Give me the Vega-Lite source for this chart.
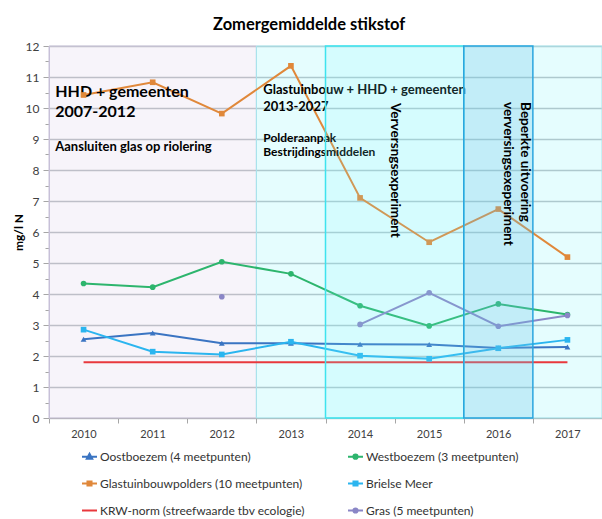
{
  "$schema": "https://vega.github.io/schema/vega-lite/v6.json",
  "width": 553,
  "height": 372,
  "autosize": {"type": "none"},
  "padding": {"left": 49, "top": 46, "right": 0, "bottom": 101},
  "background": "white",
  "title": {
    "text": "Zomergemiddelde stikstof",
    "anchor": "start",
    "frame": "group",
    "dx": 164,
    "offset": 7,
    "fontSize": 16.5,
    "font": "Lato",
    "fontWeight": "bold",
    "color": "#000000"
  },
  "config": {
    "view": {"stroke": null},
    "font": "Lato",
    "axis": {"labelFont": "Lato", "titleFont": "Lato", "labelColor": "#404040"},
    "axisY": {
      "labelOverlap": false,
      "labelFontSize": 12,
      "labelPadding": 4,
      "gridColor": "#c2c6ca",
      "gridWidth": 1.5,
      "tickColor": "#a6a6a6",
      "domainColor": "#C9C3D9",
      "titleFontSize": 12,
      "titleFontWeight": "bold",
      "titleColor": "#000000",
      "titlePadding": 0
    }
  },
  "datasets": {
    "meas": [
      {"year": 2010, "series": "Oostboezem (4 meetpunten)", "value": 2.54},
      {"year": 2011, "series": "Oostboezem (4 meetpunten)", "value": 2.74},
      {"year": 2012, "series": "Oostboezem (4 meetpunten)", "value": 2.41},
      {"year": 2013, "series": "Oostboezem (4 meetpunten)", "value": 2.41},
      {"year": 2014, "series": "Oostboezem (4 meetpunten)", "value": 2.38},
      {"year": 2015, "series": "Oostboezem (4 meetpunten)", "value": 2.37},
      {"year": 2016, "series": "Oostboezem (4 meetpunten)", "value": 2.26},
      {"year": 2017, "series": "Oostboezem (4 meetpunten)", "value": 2.29},
      {"year": 2010, "series": "Westboezem (3 meetpunten)", "value": 4.34},
      {"year": 2011, "series": "Westboezem (3 meetpunten)", "value": 4.22},
      {"year": 2012, "series": "Westboezem (3 meetpunten)", "value": 5.04},
      {"year": 2013, "series": "Westboezem (3 meetpunten)", "value": 4.65},
      {"year": 2014, "series": "Westboezem (3 meetpunten)", "value": 3.62},
      {"year": 2015, "series": "Westboezem (3 meetpunten)", "value": 2.97},
      {"year": 2016, "series": "Westboezem (3 meetpunten)", "value": 3.68},
      {"year": 2017, "series": "Westboezem (3 meetpunten)", "value": 3.34},
      {"year": 2010, "series": "Glastuinbouwpolders (10 meetpunten)", "value": 10.42},
      {"year": 2011, "series": "Glastuinbouwpolders (10 meetpunten)", "value": 10.83},
      {"year": 2012, "series": "Glastuinbouwpolders (10 meetpunten)", "value": 9.82},
      {"year": 2013, "series": "Glastuinbouwpolders (10 meetpunten)", "value": 11.36},
      {"year": 2014, "series": "Glastuinbouwpolders (10 meetpunten)", "value": 7.1},
      {"year": 2015, "series": "Glastuinbouwpolders (10 meetpunten)", "value": 5.67},
      {"year": 2016, "series": "Glastuinbouwpolders (10 meetpunten)", "value": 6.74},
      {"year": 2017, "series": "Glastuinbouwpolders (10 meetpunten)", "value": 5.19},
      {"year": 2010, "series": "Brielse Meer", "value": 2.85},
      {"year": 2011, "series": "Brielse Meer", "value": 2.14},
      {"year": 2012, "series": "Brielse Meer", "value": 2.05},
      {"year": 2013, "series": "Brielse Meer", "value": 2.46},
      {"year": 2014, "series": "Brielse Meer", "value": 2.01},
      {"year": 2015, "series": "Brielse Meer", "value": 1.91},
      {"year": 2016, "series": "Brielse Meer", "value": 2.25},
      {"year": 2017, "series": "Brielse Meer", "value": 2.52},
      {"year": 2010, "series": "KRW-norm (streefwaarde tbv ecologie)", "value": 1.8},
      {"year": 2011, "series": "KRW-norm (streefwaarde tbv ecologie)", "value": 1.8},
      {"year": 2012, "series": "KRW-norm (streefwaarde tbv ecologie)", "value": 1.8},
      {"year": 2013, "series": "KRW-norm (streefwaarde tbv ecologie)", "value": 1.8},
      {"year": 2014, "series": "KRW-norm (streefwaarde tbv ecologie)", "value": 1.8},
      {"year": 2015, "series": "KRW-norm (streefwaarde tbv ecologie)", "value": 1.8},
      {"year": 2016, "series": "KRW-norm (streefwaarde tbv ecologie)", "value": 1.8},
      {"year": 2017, "series": "KRW-norm (streefwaarde tbv ecologie)", "value": 1.8},
      {"year": 2012, "series": "Gras (5 meetpunten)", "value": 3.91},
      {"year": 2013, "series": "Gras (5 meetpunten)", "value": null},
      {"year": 2014, "series": "Gras (5 meetpunten)", "value": 3.02},
      {"year": 2015, "series": "Gras (5 meetpunten)", "value": 4.04},
      {"year": 2016, "series": "Gras (5 meetpunten)", "value": 2.96},
      {"year": 2017, "series": "Gras (5 meetpunten)", "value": 3.31}
    ],
    "regions": [
      {"period": "2010-2012", "start": 2009.5, "end": 2012.5},
      {"period": "2013-2017", "start": 2012.5, "end": 2017.5},
      {"period": "verversing", "start": 2013.5, "end": 2015.5},
      {"period": "beperkt", "start": 2015.5, "end": 2016.5}
    ],
    "notes": [
      {"group": "kop", "year": 2009.59, "value": 10.365, "label": "HHD + gemeenten\n2007-2012"},
      {"group": "sub1", "year": 2009.59, "value": 8.62, "label": "Aansluiten glas op riolering"},
      {"group": "kop2", "year": 2012.6, "value": 10.44, "label": "Glastuinbouw + HHD + gemeenten\n2013-2027"},
      {"group": "sub2", "year": 2012.6, "value": 8.91, "label": "Polderaanpak\nBestrijdingsmiddelen"},
      {"group": "rot", "year": 2014.5, "value": 10.16, "label": "Verversngsexperiment"},
      {"group": "rot", "year": 2016.386, "value": 10.19, "label": "Beperkte uitvoering"},
      {"group": "rot", "year": 2016.14, "value": 10.19, "label": "verversingsexeperiment"}
    ]
  },
  "layer": [
    {
      "data": {"name": "regions"},
      "transform": [{"filter": "datum.period === '2010-2012'"}],
      "mark": {"type": "rect", "fill": "#8E6AB8", "fillOpacity": 0.07, "stroke": "#C9C3D9", "strokeWidth": 1},
      "encoding": {
        "x": {
          "field": "start", "type": "quantitative", "title": null,
          "scale": {"domain": [2009.5, 2017.5], "nice": false, "zero": false},
          "axis": {
            "values": [2009.5, 2010.5, 2011.5, 2012.5, 2013.5, 2014.5, 2015.5, 2016.5, 2017.5],
            "labelExpr": "datum.value < 2017 ? '' + (datum.value + 0.5) : ''",
            "labelOffset": 34.5,
            "labelFlush": false,
            "labelOverlap": false,
            "labelBound": false,
            "grid": false,
            "tickSize": 5,
            "tickColor": "#a6a6a6",
            "domainColor": "#a6a6a6",
            "labelFontSize": 11,
            "labelPadding": 5,
            "title": null
          }
        },
        "x2": {"field": "end"}
      }
    },
    {
      "data": {"name": "regions"},
      "transform": [{"filter": "datum.period === '2013-2017'"}],
      "mark": {"type": "rect", "fill": "#00F0F8", "fillOpacity": 0.1, "stroke": "#A6E6EE", "strokeWidth": 1},
      "encoding": {
        "x": {"field": "start", "type": "quantitative", "title": null},
        "x2": {"field": "end"}
      }
    },
    {
      "data": {"name": "meas"},
      "mark": {"type": "line", "strokeWidth": 2, "invalid": "break-paths-filter-domains"},
      "encoding": {
        "x": {"field": "year", "type": "quantitative", "title": null},
        "y": {
          "field": "value", "type": "quantitative", "title": "mg/l N",
          "scale": {"domain": [0, 12], "nice": false},
          "axis": {
            "values": [0, 0.5, 1, 1.5, 2, 2.5, 3, 3.5, 4, 4.5, 5, 5.5, 6, 6.5, 7, 7.5, 8, 8.5, 9, 9.5, 10, 10.5, 11, 11.5, 12],
            "labelExpr": "datum.value % 1 === 0 ? format(datum.value, 'd') : ''",
            "gridOpacity": {"condition": {"test": "datum.value % 1 === 0", "value": 1}, "value": 0},
            "tickSize": {"condition": {"test": "datum.value % 1 === 0", "value": 6}, "value": 4}
          }
        },
        "color": {
          "field": "series", "type": "nominal",
          "scale": {
            "domain": ["Oostboezem (4 meetpunten)", "Westboezem (3 meetpunten)", "Glastuinbouwpolders (10 meetpunten)", "Brielse Meer", "KRW-norm (streefwaarde tbv ecologie)", "Gras (5 meetpunten)"],
            "range": ["#3A74C2", "#2DB56D", "#E0883A", "#2BB5EF", "#E8383D", "#8A86C6"]
          },
          "legend": {
            "orient": "none", "legendX": 32, "legendY": 402, "direction": "horizontal", "columns": 2, "title": null,
            "symbolSize": 225, "symbolStrokeWidth": 2, "symbolOpacity": 1,
            "labelFontSize": 12, "labelFont": "Lato", "labelColor": "#333333", "labelOffset": 2,
            "rowPadding": 12, "columnPadding": 39, "padding": 0, "labelLimit": 300
          }
        }
      }
    },
    {
      "data": {"name": "notes"},
      "transform": [{"filter": "datum.group === 'kop'"}],
      "mark": {"type": "text", "align": "left", "baseline": "alphabetic", "fontSize": 16, "fontWeight": "bold", "font": "Lato", "color": "#000000", "lineBreak": "\n", "lineHeight": 20},
      "encoding": {
        "x": {"field": "year", "type": "quantitative", "title": null},
        "y": {"field": "value", "type": "quantitative", "title": "mg/l N",
          "axis": {
            "values": [0, 0.5, 1, 1.5, 2, 2.5, 3, 3.5, 4, 4.5, 5, 5.5, 6, 6.5, 7, 7.5, 8, 8.5, 9, 9.5, 10, 10.5, 11, 11.5, 12],
            "labelExpr": "datum.value % 1 === 0 ? format(datum.value, 'd') : ''",
            "gridOpacity": {"condition": {"test": "datum.value % 1 === 0", "value": 1}, "value": 0},
            "tickSize": {"condition": {"test": "datum.value % 1 === 0", "value": 6}, "value": 4}
          }},
        "text": {"field": "label"}
      }
    },
    {
      "data": {"name": "notes"},
      "transform": [{"filter": "datum.group === 'sub1'"}],
      "mark": {"type": "text", "align": "left", "baseline": "alphabetic", "fontSize": 13, "fontWeight": "bold", "font": "Lato", "color": "#000000"},
      "encoding": {
        "x": {"field": "year", "type": "quantitative", "title": null},
        "y": {"field": "value", "type": "quantitative", "title": "mg/l N",
          "axis": {
            "values": [0, 0.5, 1, 1.5, 2, 2.5, 3, 3.5, 4, 4.5, 5, 5.5, 6, 6.5, 7, 7.5, 8, 8.5, 9, 9.5, 10, 10.5, 11, 11.5, 12],
            "labelExpr": "datum.value % 1 === 0 ? format(datum.value, 'd') : ''",
            "gridOpacity": {"condition": {"test": "datum.value % 1 === 0", "value": 1}, "value": 0},
            "tickSize": {"condition": {"test": "datum.value % 1 === 0", "value": 6}, "value": 4}
          }},
        "text": {"field": "label"}
      }
    },
    {
      "data": {"name": "notes"},
      "transform": [{"filter": "datum.group === 'kop2'"}],
      "mark": {"type": "text", "align": "left", "baseline": "alphabetic", "fontSize": 13, "fontWeight": "bold", "font": "Lato", "color": "#000000", "lineBreak": "\n", "lineHeight": 17},
      "encoding": {
        "x": {"field": "year", "type": "quantitative", "title": null},
        "y": {"field": "value", "type": "quantitative", "title": "mg/l N",
          "axis": {
            "values": [0, 0.5, 1, 1.5, 2, 2.5, 3, 3.5, 4, 4.5, 5, 5.5, 6, 6.5, 7, 7.5, 8, 8.5, 9, 9.5, 10, 10.5, 11, 11.5, 12],
            "labelExpr": "datum.value % 1 === 0 ? format(datum.value, 'd') : ''",
            "gridOpacity": {"condition": {"test": "datum.value % 1 === 0", "value": 1}, "value": 0},
            "tickSize": {"condition": {"test": "datum.value % 1 === 0", "value": 6}, "value": 4}
          }},
        "text": {"field": "label"}
      }
    },
    {
      "data": {"name": "notes"},
      "transform": [{"filter": "datum.group === 'sub2'"}],
      "mark": {"type": "text", "align": "left", "baseline": "alphabetic", "fontSize": 12, "fontWeight": "bold", "font": "Lato", "color": "#000000", "lineBreak": "\n", "lineHeight": 14.5},
      "encoding": {
        "x": {"field": "year", "type": "quantitative", "title": null},
        "y": {"field": "value", "type": "quantitative", "title": "mg/l N",
          "axis": {
            "values": [0, 0.5, 1, 1.5, 2, 2.5, 3, 3.5, 4, 4.5, 5, 5.5, 6, 6.5, 7, 7.5, 8, 8.5, 9, 9.5, 10, 10.5, 11, 11.5, 12],
            "labelExpr": "datum.value % 1 === 0 ? format(datum.value, 'd') : ''",
            "gridOpacity": {"condition": {"test": "datum.value % 1 === 0", "value": 1}, "value": 0},
            "tickSize": {"condition": {"test": "datum.value % 1 === 0", "value": 6}, "value": 4}
          }},
        "text": {"field": "label"}
      }
    },
    {
      "data": {"name": "meas"},
      "mark": {"type": "point", "filled": true, "opacity": 0, "size": 4},
      "encoding": {
        "x": {"field": "year", "type": "quantitative", "title": null},
        "y": {"field": "value", "type": "quantitative", "title": "mg/l N",
          "axis": {
            "values": [0, 0.5, 1, 1.5, 2, 2.5, 3, 3.5, 4, 4.5, 5, 5.5, 6, 6.5, 7, 7.5, 8, 8.5, 9, 9.5, 10, 10.5, 11, 11.5, 12],
            "labelExpr": "datum.value % 1 === 0 ? format(datum.value, 'd') : ''",
            "gridOpacity": {"condition": {"test": "datum.value % 1 === 0", "value": 1}, "value": 0},
            "tickSize": {"condition": {"test": "datum.value % 1 === 0", "value": 6}, "value": 4}
          }},
        "color": {
          "field": "series", "type": "nominal",
          "legend": {
            "orient": "none", "legendX": 32, "legendY": 402, "direction": "horizontal", "columns": 2, "title": null,
            "symbolSize": 225, "symbolStrokeWidth": 2, "symbolOpacity": 1,
            "labelFontSize": 12, "labelFont": "Lato", "labelColor": "#333333", "labelOffset": 2,
            "rowPadding": 12, "columnPadding": 39, "padding": 0, "labelLimit": 300
          }
        },
        "shape": {
          "field": "series", "type": "nominal",
          "scale": {
            "domain": ["Oostboezem (4 meetpunten)", "Westboezem (3 meetpunten)", "Glastuinbouwpolders (10 meetpunten)", "Brielse Meer", "KRW-norm (streefwaarde tbv ecologie)", "Gras (5 meetpunten)"],
            "range": ["M-1,0H1M0,-0.4L0.36,0.26H-0.36Z", "M-1,0H1M-0.28,0A0.28,0.28,0,1,1,0.28,0A0.28,0.28,0,1,1,-0.28,0Z", "M-1,0H1M-0.27,-0.27H0.27V0.27H-0.27Z", "M-1,0H1M-0.27,-0.27H0.27V0.27H-0.27Z", "M-1,0H1", "M-1,0H1M-0.28,0A0.28,0.28,0,1,1,0.28,0A0.28,0.28,0,1,1,-0.28,0Z"]
          },
          "legend": {
            "orient": "none", "legendX": 32, "legendY": 402, "direction": "horizontal", "columns": 2, "title": null,
            "symbolSize": 225, "symbolStrokeWidth": 2, "symbolOpacity": 1,
            "labelFontSize": 12, "labelFont": "Lato", "labelColor": "#333333", "labelOffset": 2,
            "rowPadding": 12, "columnPadding": 39, "padding": 0, "labelLimit": 300
          }
        }
      }
    },
    {
      "data": {"name": "meas"},
      "transform": [{"filter": "datum.series === 'Oostboezem (4 meetpunten)'"}],
      "mark": {"type": "point", "shape": "triangle-up", "filled": true, "size": 34, "opacity": 1},
      "encoding": {
        "x": {"field": "year", "type": "quantitative", "title": null},
        "y": {"field": "value", "type": "quantitative", "title": "mg/l N",
          "axis": {
            "values": [0, 0.5, 1, 1.5, 2, 2.5, 3, 3.5, 4, 4.5, 5, 5.5, 6, 6.5, 7, 7.5, 8, 8.5, 9, 9.5, 10, 10.5, 11, 11.5, 12],
            "labelExpr": "datum.value % 1 === 0 ? format(datum.value, 'd') : ''",
            "gridOpacity": {"condition": {"test": "datum.value % 1 === 0", "value": 1}, "value": 0},
            "tickSize": {"condition": {"test": "datum.value % 1 === 0", "value": 6}, "value": 4}
          }},
        "color": {"field": "series", "type": "nominal", "legend": null}
      }
    },
    {
      "data": {"name": "meas"},
      "transform": [{"filter": "datum.series === 'Westboezem (3 meetpunten)' || datum.series === 'Gras (5 meetpunten)'"}],
      "mark": {"type": "point", "shape": "circle", "filled": true, "size": 32, "opacity": 1},
      "encoding": {
        "x": {"field": "year", "type": "quantitative", "title": null},
        "y": {"field": "value", "type": "quantitative", "title": "mg/l N",
          "axis": {
            "values": [0, 0.5, 1, 1.5, 2, 2.5, 3, 3.5, 4, 4.5, 5, 5.5, 6, 6.5, 7, 7.5, 8, 8.5, 9, 9.5, 10, 10.5, 11, 11.5, 12],
            "labelExpr": "datum.value % 1 === 0 ? format(datum.value, 'd') : ''",
            "gridOpacity": {"condition": {"test": "datum.value % 1 === 0", "value": 1}, "value": 0},
            "tickSize": {"condition": {"test": "datum.value % 1 === 0", "value": 6}, "value": 4}
          }},
        "color": {"field": "series", "type": "nominal", "legend": null}
      }
    },
    {
      "data": {"name": "meas"},
      "transform": [{"filter": "datum.series === 'Glastuinbouwpolders (10 meetpunten)' || datum.series === 'Brielse Meer'"}],
      "mark": {"type": "point", "shape": "square", "filled": true, "size": 32, "opacity": 1},
      "encoding": {
        "x": {"field": "year", "type": "quantitative", "title": null},
        "y": {"field": "value", "type": "quantitative", "title": "mg/l N",
          "axis": {
            "values": [0, 0.5, 1, 1.5, 2, 2.5, 3, 3.5, 4, 4.5, 5, 5.5, 6, 6.5, 7, 7.5, 8, 8.5, 9, 9.5, 10, 10.5, 11, 11.5, 12],
            "labelExpr": "datum.value % 1 === 0 ? format(datum.value, 'd') : ''",
            "gridOpacity": {"condition": {"test": "datum.value % 1 === 0", "value": 1}, "value": 0},
            "tickSize": {"condition": {"test": "datum.value % 1 === 0", "value": 6}, "value": 4}
          }},
        "color": {"field": "series", "type": "nominal", "legend": null}
      }
    },
    {
      "data": {"name": "regions"},
      "transform": [{"filter": "datum.period === 'verversing'"}],
      "mark": {"type": "rect", "fill": "#7BF6FE", "fillOpacity": 0.15, "stroke": "#3EE3EE", "strokeWidth": 1.5},
      "encoding": {
        "x": {"field": "start", "type": "quantitative", "title": null},
        "x2": {"field": "end"}
      }
    },
    {
      "data": {"name": "regions"},
      "transform": [{"filter": "datum.period === 'beperkt'"}],
      "mark": {"type": "rect", "fill": "#67C4EA", "fillOpacity": 0.28, "stroke": "#2BA6DE", "strokeWidth": 1.5},
      "encoding": {
        "x": {"field": "start", "type": "quantitative", "title": null},
        "x2": {"field": "end"}
      }
    },
    {
      "data": {"name": "notes"},
      "transform": [{"filter": "datum.group === 'rot'"}],
      "mark": {"type": "text", "align": "left", "baseline": "middle", "angle": 90, "fontSize": 13.5, "fontWeight": "bold", "font": "Lato", "color": "#000000"},
      "encoding": {
        "x": {"field": "year", "type": "quantitative", "title": null},
        "y": {"field": "value", "type": "quantitative", "title": "mg/l N",
          "axis": {
            "values": [0, 0.5, 1, 1.5, 2, 2.5, 3, 3.5, 4, 4.5, 5, 5.5, 6, 6.5, 7, 7.5, 8, 8.5, 9, 9.5, 10, 10.5, 11, 11.5, 12],
            "labelExpr": "datum.value % 1 === 0 ? format(datum.value, 'd') : ''",
            "gridOpacity": {"condition": {"test": "datum.value % 1 === 0", "value": 1}, "value": 0},
            "tickSize": {"condition": {"test": "datum.value % 1 === 0", "value": 6}, "value": 4}
          }},
        "text": {"field": "label"}
      }
    }
  ]
}
